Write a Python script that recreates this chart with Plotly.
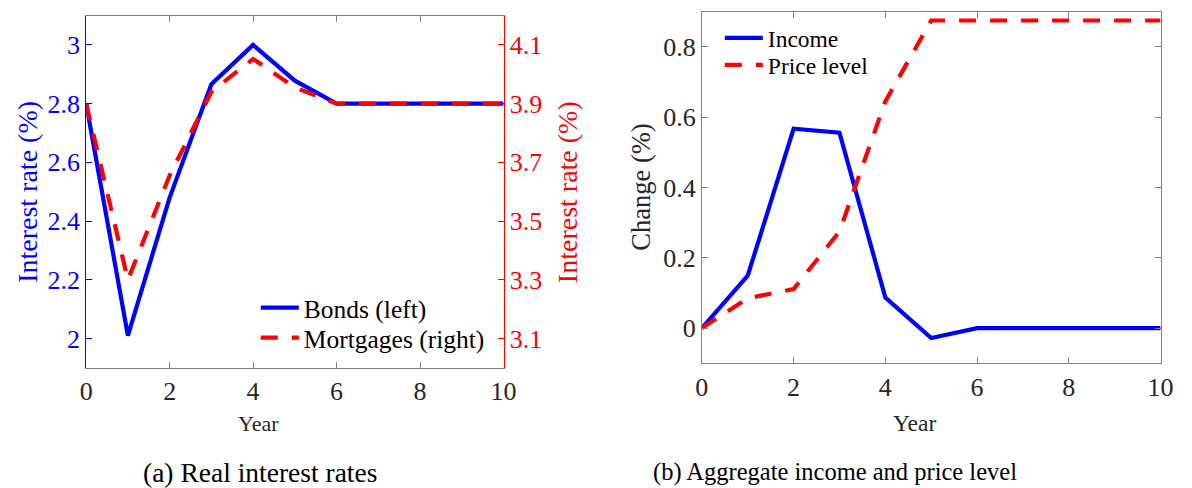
import plotly.graph_objects as go

W, H = 1192, 488

years = list(range(0, 11))
bonds = [2.80, 2.01, 2.48, 2.866, 3.00, 2.878, 2.80, 2.80, 2.80, 2.80, 2.80]
mortgages = [3.90, 3.30, 3.655, 3.94, 4.052, 3.955, 3.90, 3.90, 3.90, 3.90, 3.90]
income = [0.0, 0.149, 0.567, 0.556, 0.087, -0.028, 0.0, 0.0, 0.0, 0.0, 0.0]
price = [0.0, 0.085, 0.111, 0.275, 0.645, 0.875, 0.875, 0.875, 0.875, 0.875, 0.875]

x_ticks = [0, 2, 4, 6, 8, 10]
left_ticks = [2.0, 2.2, 2.4, 2.6, 2.8, 3.0]
left_ticktext = ["2", "2.2", "2.4", "2.6", "2.8", "3"]
right_ticks = [3.1, 3.3, 3.5, 3.7, 3.9, 4.1]
right_ticktext = ["3.1", "3.3", "3.5", "3.7", "3.9", "4.1"]
chg_ticks = [0, 0.2, 0.4, 0.6, 0.8]
chg_ticktext = ["0", "0.2", "0.4", "0.6", "0.8"]

BLUE = "#0000ff"
RED = "#ff0000"
DARK = "#262626"
GRAY = "#808080"
FONT = "Times New Roman, Liberation Serif, DejaVu Serif, serif"
DASH = "17px,14px"


def px(x):
    return x / W


def py(y):
    return 1 - y / H


fig = go.Figure()
fig.add_trace(go.Scatter(x=years, y=bonds, mode="lines", name="Bonds (left)",
                         line=dict(color=BLUE, width=4.2), xaxis="x", yaxis="y",
                         legend="legend"))
fig.add_trace(go.Scatter(x=years, y=mortgages, mode="lines", name="Mortgages (right)",
                         line=dict(color=RED, width=4.2, dash=DASH), xaxis="x", yaxis="y2",
                         legend="legend2"))
fig.add_trace(go.Scatter(x=years, y=income, mode="lines", name="Income",
                         line=dict(color=BLUE, width=4.2), xaxis="x2", yaxis="y3",
                         legend="legend3"))
fig.add_trace(go.Scatter(x=years, y=price, mode="lines", name="Price level",
                         line=dict(color=RED, width=4.2, dash=DASH), xaxis="x2", yaxis="y3",
                         legend="legend4"))

TICK = 26
common_x = dict(range=[0, 10], tickvals=x_ticks, ticks="inside", ticklen=6,
                showgrid=False, zeroline=False, showline=True, linecolor=GRAY,
                linewidth=1, tickcolor=GRAY, mirror="ticks",
                tickfont=dict(family=FONT, size=TICK, color=DARK))


def leg(x, yc, size):
    return dict(x=px(x), y=py(yc), xanchor="left", yanchor="middle",
                bgcolor="rgba(0,0,0,0)", borderwidth=0, itemwidth=38,
                font=dict(family=FONT, size=size, color="#000000"))


fig.update_layout(
    width=W, height=H,
    margin=dict(l=0, r=0, t=0, b=0),
    paper_bgcolor="white", plot_bgcolor="white",
    font=dict(family=FONT, color=DARK),
    xaxis=dict(domain=[px(80.5), px(505)], anchor="y", **common_x),
    yaxis=dict(domain=[py(368), py(15.5)], range=[1.9, 3.1], tickvals=left_ticks,
               ticktext=left_ticktext, ticks="inside", ticklen=6, showgrid=False,
               zeroline=False, showline=True, linecolor=BLUE, tickcolor=BLUE,
               tickfont=dict(family=FONT, size=TICK, color=BLUE), anchor="x"),
    yaxis2=dict(overlaying="y", side="right", anchor="x", range=[3.0, 4.2],
                tickvals=right_ticks, ticktext=right_ticktext, ticks="inside",
                ticklen=6, showgrid=False, zeroline=False, showline=True,
                linecolor=RED, tickcolor=RED,
                tickfont=dict(family=FONT, size=TICK, color=RED)),
    xaxis2=dict(domain=[px(706.7), px(1173.3)], anchor="y3", **common_x),
    yaxis3=dict(domain=[py(363.3), py(11.7)], anchor="x2", range=[-0.1, 0.9],
                tickvals=chg_ticks, ticktext=chg_ticktext, ticks="inside", ticklen=6,
                showgrid=False, zeroline=False, showline=True, linecolor=GRAY,
                tickcolor=GRAY, mirror="ticks",
                tickfont=dict(family=FONT, size=TICK, color=DARK)),
    legend=leg(253, 308, 25.5),
    legend2=leg(253, 338, 25.5),
    legend3=leg(725, 38, 23.5),
    legend4=leg(725, 65, 23.5),
    showlegend=True,
)

annotations = [
    dict(text="Interest rate (%)", x=px(21.5), y=py(191.7), textangle=-90,
         font=dict(family=FONT, size=28, color=BLUE)),
    dict(text="Interest rate (%)", x=px(570), y=py(191.7), textangle=-90,
         font=dict(family=FONT, size=28, color=RED)),
    dict(text="Change (%)", x=px(644), y=py(187.5), textangle=-90,
         font=dict(family=FONT, size=26.5, color=DARK)),
    dict(text="Year", x=px(256), y=py(423), font=dict(family=FONT, size=22, color=DARK)),
    dict(text="Year", x=px(922.5), y=py(423), font=dict(family=FONT, size=23.5, color=DARK)),
    dict(text="(a) Real interest rates", x=px(257.5), y=py(472),
         font=dict(family=FONT, size=27.5, color="#000000")),
    dict(text="(b) Aggregate income and price level", x=px(842.5), y=py(472),
         font=dict(family=FONT, size=24.5, color="#000000")),
]
for a in annotations:
    a.update(xref="paper", yref="paper", showarrow=False, xanchor="center", yanchor="middle")
fig.update_layout(annotations=annotations)

fig.write_html("out.html")
